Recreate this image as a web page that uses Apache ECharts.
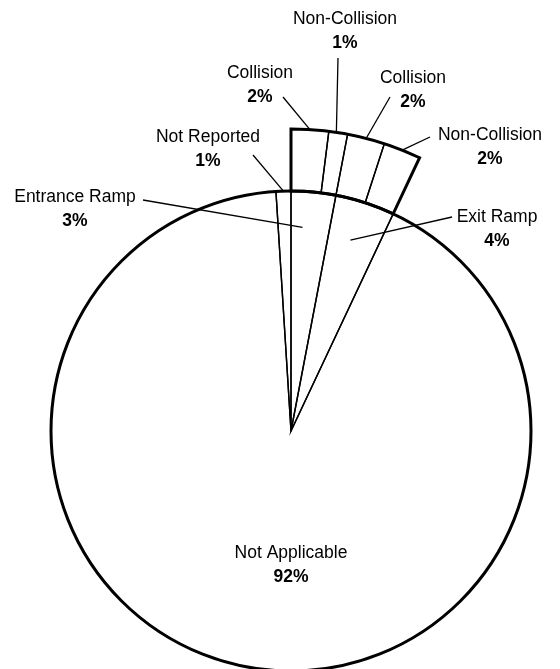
<!DOCTYPE html>
<html>
<head>
<meta charset="utf-8">
<script src="https://cdn.jsdelivr.net/npm/echarts@6/dist/echarts.min.js"></script>
<style>
  html, body { margin: 0; padding: 0; background: #fff; }
  #chart { width: 560px; height: 669px; }
</style>
</head>
<body>
<div id="chart"></div>
<script>
// Ramp involvement (percent), clockwise from 12 o'clock
const rampNames = ['Entrance Ramp', 'Exit Ramp', 'Not Applicable', 'Not Reported'];
const rampValues = [3, 4, 92, 1];

// Collision breakdown of the entrance and exit ramp slices
const detailNames = ['Collision', 'Non-Collision', 'Collision', 'Non-Collision'];
const detailValues = [2, 1, 2, 2];

// ---- layout ----
const CX = 291, CY = 431;
const R_PIE = 240, R_RING = 302;
const FONT = '"Liberation Sans", Arial, sans-serif';

const rampTotal = rampValues.reduce((a, b) => a + b, 0);
const detailTotal = detailValues.reduce((a, b) => a + b, 0);
// the breakdown ring only covers the ramp slices; the rest of it is left empty
const ringValues = detailValues.concat([rampTotal - detailTotal]);

// label placement: x = centre of text, y = top of text block,
// from = where the leader leaves the label, frac / r = where it meets the slice
const labelPlace = {
  '0-0': { x: 75,  y: 185, from: [143, 200], frac: 0.3, r: 204 },
  '0-1': { x: 497, y: 205, from: [452, 217], frac: 0.45, r: 200 },
  '0-2': { x: 291, y: 541 },
  '0-3': { x: 208, y: 125, from: [253, 155], frac: 0.5, r: R_PIE },
  '1-0': { x: 260, y: 61,  from: [283, 97],  frac: 0.5, r: R_RING },
  '1-1': { x: 345, y: 7,   from: [338, 58],  frac: 0.4, r: R_RING },
  '1-2': { x: 413, y: 66,  from: [390, 97],  frac: 0.5, r: R_RING },
  '1-3': { x: 490, y: 123, from: [430, 137], frac: 0.5, r: R_RING }
};

// point inside slice `idx` of a series, at a fraction of its sweep and a radius
function slicePoint(values, idx, frac, r) {
  const total = values.reduce((a, b) => a + b, 0);
  let before = 0;
  for (let i = 0; i < idx; i++) before += values[i];
  const ang = (before + frac * values[idx]) / total * Math.PI * 2;
  return [CX + r * Math.sin(ang), CY - r * Math.cos(ang)];
}

function placeLabel(params) {
  const p = labelPlace[params.seriesIndex + '-' + params.dataIndex];
  if (!p) return {};
  const out = { x: p.x, y: p.y, align: 'center', verticalAlign: 'top' };
  if (p.from) {
    const vals = params.seriesIndex === 0 ? rampValues : ringValues;
    out.labelLinePoints = [slicePoint(vals, params.dataIndex, p.frac, p.r), p.from];
  }
  return out;
}

const labelStyle = {
  show: true,
  position: 'outside',
  formatter: '{n|{b}}\n{p|{c}%}',
  rich: {
    n: { fontFamily: FONT, fontSize: 17.5, color: '#000', lineHeight: 24, align: 'center' },
    p: { fontFamily: FONT, fontSize: 17.5, fontWeight: 'bold', color: '#000', lineHeight: 24, align: 'center' }
  }
};
const leaderStyle = { show: true, lineStyle: { color: '#000', width: 1.3 } };
// slices are left unfilled on the white page so the leaders stay visible over them
const thinEdge = { color: 'rgba(255,255,255,0)', borderColor: '#000', borderWidth: 1.4, borderJoin: 'miter' };

const option = {
  backgroundColor: '#fff',
  animation: false,
  series: [
    {
      type: 'pie',
      center: [CX, CY],
      radius: [0, R_PIE],
      startAngle: 90,
      clockwise: true,
      avoidLabelOverlap: false,
      silent: true,
      emphasis: { disabled: true },
      itemStyle: thinEdge,
      label: labelStyle,
      labelLine: leaderStyle,
      labelLayout: placeLabel,
      data: rampNames.map((n, i) => ({
        name: n,
        value: rampValues[i],
        labelLine: { show: n !== 'Not Applicable' }
      }))
    },
    {
      type: 'pie',
      center: [CX, CY],
      radius: [R_PIE, R_RING],
      startAngle: 90,
      clockwise: true,
      avoidLabelOverlap: false,
      silent: true,
      emphasis: { disabled: true },
      itemStyle: thinEdge,
      label: labelStyle,
      labelLine: leaderStyle,
      labelLayout: placeLabel,
      data: ringValues.map((v, i) => i < detailNames.length
        ? { name: detailNames[i], value: v }
        : { name: '', value: v,
            itemStyle: { color: 'rgba(0,0,0,0)', borderWidth: 0 },
            label: { show: false }, labelLine: { show: false } })
    },
    {
      // heavy outline of the whole pie
      type: 'pie',
      center: [CX, CY],
      radius: [0, R_PIE],
      silent: true,
      emphasis: { disabled: true },
      label: { show: false },
      labelLine: { show: false },
      itemStyle: { color: 'rgba(0,0,0,0)', borderColor: '#000', borderWidth: 3 },
      data: [{ name: '', value: rampTotal }]
    },
    {
      // heavy outline of the breakdown ring
      type: 'pie',
      center: [CX, CY],
      radius: [R_PIE, R_RING],
      startAngle: 90,
      clockwise: true,
      silent: true,
      emphasis: { disabled: true },
      label: { show: false },
      labelLine: { show: false },
      data: [
        { name: '', value: detailTotal,
          itemStyle: { color: 'rgba(0,0,0,0)', borderColor: '#000', borderWidth: 3, borderJoin: 'miter' } },
        { name: '', value: rampTotal - detailTotal,
          itemStyle: { color: 'rgba(0,0,0,0)', borderWidth: 0 } }
      ]
    }
  ]
};

const chart = echarts.init(document.getElementById('chart'), null, { renderer: 'canvas' });
chart.setOption(option);
</script>
</body>
</html>
